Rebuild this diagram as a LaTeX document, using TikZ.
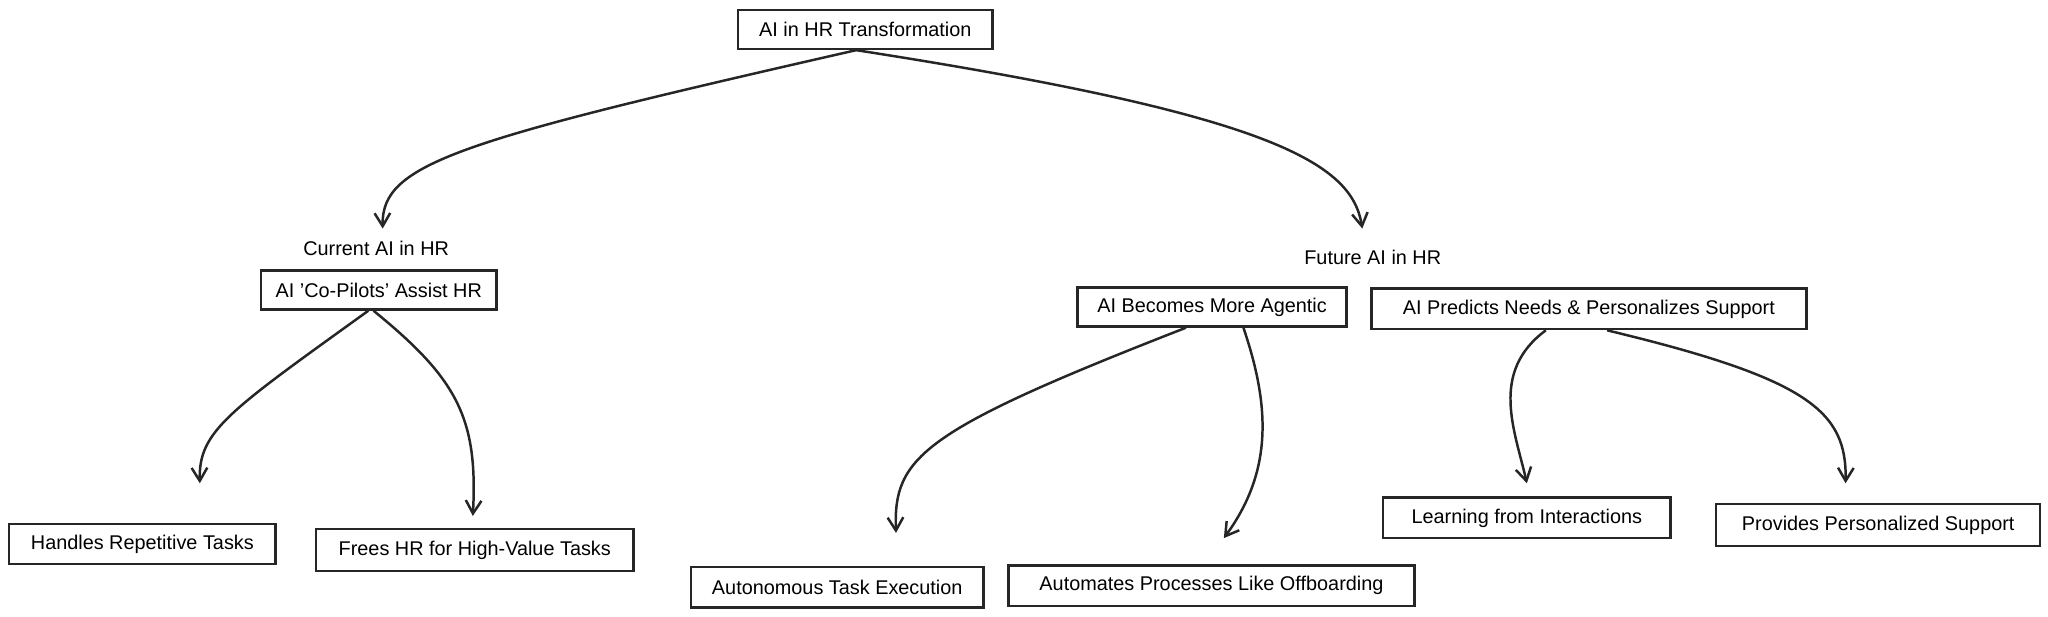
\documentclass[tikz,border=0pt]{standalone}
\usepackage{fontspec}
\setmainfont{Liberation Sans}
\usetikzlibrary{arrows.meta,calc}
\begin{document}
\begin{tikzpicture}[x=0.5pt,y=-0.5pt,
  box/.style={draw=black!85, line width=0.9pt, minimum height=15pt, inner sep=0pt, font=\fontsize{7.6}{9}\selectfont, fill=white},
  lbl/.style={font=\fontsize{7.6}{9}\selectfont, inner sep=0pt},
  conn/.style={draw=black!85, line width=0.95pt, -{Straight Barb[length=5pt,width=6pt,line width=0.95pt]}}]
\useasboundingbox (0,0) rectangle (1568,472);
% nodes
\node[box, minimum width=97.5pt] (root) at (662.5,22.5) {AI in HR Transformation};
\node[lbl] (curl) at (288,190) {Current AI in HR};
\node[box, minimum width=90pt] (cop) at (290,222) {AI 'Co-Pilots' Assist HR};
\node[lbl] (futl) at (1051,197) {Future AI in HR};
\node[box, minimum width=103pt] (agt) at (928,235) {AI Becomes More Agentic};
\node[box, minimum width=166.5pt, minimum height=15.5pt] (pred) at (1216.5,236.5) {AI Predicts Needs \& Personalizes Support};
\node[box, minimum width=102pt, minimum height=15.5pt] (hand) at (109,416.5) {Handles Repetitive Tasks};
\node[box, minimum width=121.5pt, minimum height=16pt] (free) at (363.5,421) {Frees HR for High-Value Tasks};
\node[box, minimum width=112pt, minimum height=15.5pt] (auto) at (641,449.5) {Autonomous Task Execution};
\node[box, minimum width=155.5pt, minimum height=15.5pt] (autm) at (927.5,448.5) {Automates Processes Like Offboarding};
\node[box, minimum width=110pt, minimum height=15.5pt] (learn) at (1169,396.5) {Learning from Interactions};
\node[box, minimum width=124pt, minimum height=16pt] (prov) at (1438,402) {Provides Personalized Support};
% arrow end points
\coordinate (e1) at (293,175);
\coordinate (e2) at (1043,175);
\coordinate (e3) at (153,370);
\coordinate (e4) at (362,395);
\coordinate (e5) at (686,408);
\coordinate (e6) at (937,412);
\coordinate (e7) at (1169,370);
\coordinate (e8) at (1413,370);
% connectors
\draw[conn] ($(root.south)+(-7,0)$) .. controls (350,108) and (292,125) .. (e1);
\draw[conn] ($(root.south)+(-7,0)$) .. controls (975,88) and (1035,125) .. (e2);
\draw[conn] ($(cop.south)+(-8,0)$) .. controls (175,315) and (152,330) .. (e3);
\draw[conn] ($(cop.south)+(-4,0)$) .. controls (350,290) and (366,320) .. (e4);
\draw[conn] ($(agt.south)+(-20,0)$) .. controls (705,330) and (684,350) .. (e5);
\draw[conn] ($(agt.south)+(24,0)$) .. controls (972,310) and (975,360) .. (e6);
\draw[conn] ($(pred.south)+(-33,0)$) .. controls (1140,285) and (1160,330) .. (e7);
\draw[conn] ($(pred.south)+(14,0)$) .. controls (1385,290) and (1414,315) .. (e8);
\end{tikzpicture}
\end{document}
